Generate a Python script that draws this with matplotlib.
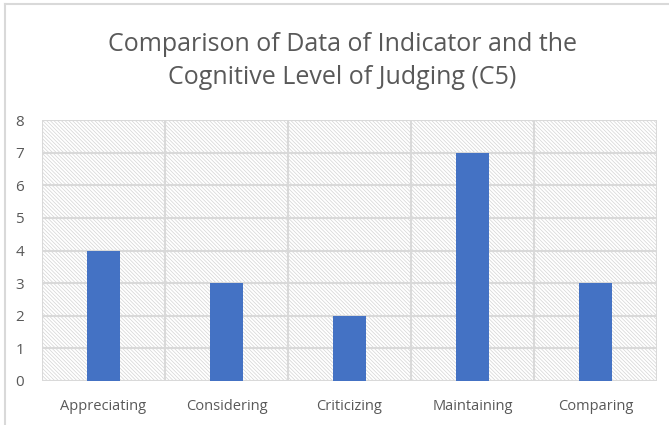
import matplotlib.pyplot as plt
from matplotlib.patches import Rectangle
from matplotlib.lines import Line2D

# data
categories = ['Appreciating', 'Considering', 'Criticizing', 'Maintaining', 'Comparing']
values = [4, 3, 2, 7, 3]
y_ticks = [0, 1, 2, 3, 4, 5, 6, 7, 8]

plt.rcParams['font.family'] = ['Open Sans', 'DejaVu Sans']
plt.rcParams['hatch.linewidth'] = 0.5
text_col = '#595959'
grid_col = '#d9d9d9'

fig = plt.figure(figsize=(6.69, 4.25), dpi=100)
ax = fig.add_axes([42 / 669, 1 - 381 / 425, 615 / 669, 261 / 425])

# hatched plot background
bg = Rectangle((0, 0), 1, 1, transform=ax.transAxes, facecolor='white',
               edgecolor='#d4d4d4', hatch='\\' * 9, linewidth=0, zorder=0)
ax.add_patch(bg)

x = range(len(categories))
ax.bar(x, values, width=0.27, color='#4472C4', zorder=3)

ax.set_xlim(-0.5, len(categories) - 0.5)
ax.set_ylim(0, 8)
ax.set_yticks(y_ticks)
ax.set_xticks(list(x))
ax.set_xticklabels(categories)

# grid: horizontal at each value, vertical between categories
for yv in y_ticks:
    ax.axhline(yv, color=grid_col, lw=1.5, zorder=1)
for b in range(len(categories) + 1):
    ax.axvline(b - 0.5, color=grid_col, lw=1.5, zorder=1)

for s in ax.spines.values():
    s.set_visible(False)
ax.tick_params(length=0, colors=text_col, labelsize=10.5)
ax.tick_params(axis='y', pad=13, labelsize=11)
ax.tick_params(axis='x', pad=13)

fig.text(0.512, 0.895, 'Comparison of Data of Indicator and the',
         ha='center', va='center', fontsize=18, color=text_col)
fig.text(0.512, 0.817, 'Cognitive Level of Judging (C5)',
         ha='center', va='center', fontsize=18, color=text_col)

# outer chart frame (top and left visible)
fig.add_artist(Line2D([5 / 669, 5 / 669], [0, 1 - 4 / 425], transform=fig.transFigure, color=grid_col, lw=1.5))
fig.add_artist(Line2D([5 / 669, 1], [1 - 4 / 425, 1 - 4 / 425], transform=fig.transFigure, color=grid_col, lw=1.5))

fig.savefig('out.png', dpi=100)
